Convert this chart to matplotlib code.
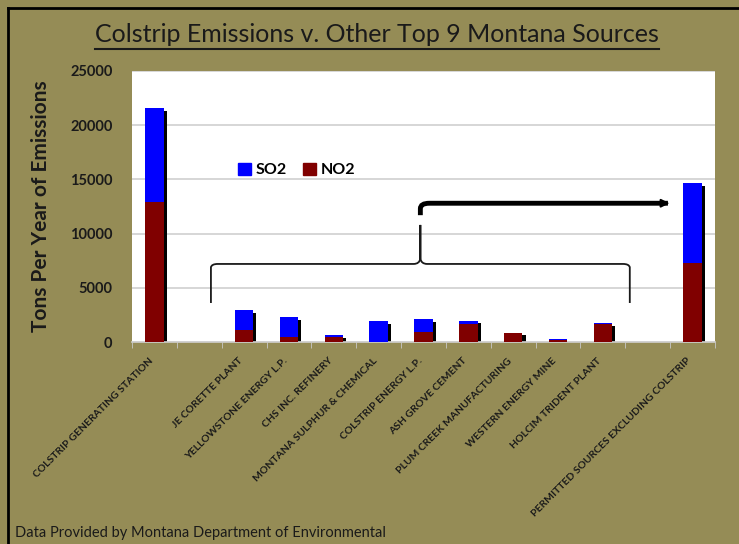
import numpy as np
import matplotlib.pyplot as plt
from matplotlib.path import Path
from matplotlib.patches import PathPatch, Patch
from matplotlib.transforms import ScaledTranslation

# data (tons per year), blank slots kept as gaps like the original
sources = ['COLSTRIP GENERATING STATION', '', 'JE CORETTE PLANT', 'YELLOWSTONE ENERGY L.P.',
           'CHS INC. REFINERY', 'MONTANA SULPHUR & CHEMICAL', 'COLSTRIP ENERGY L.P.',
           'ASH GROVE CEMENT', 'PLUM CREEK MANUFACTURING', 'WESTERN ENERGY MINE',
           'HOLCIM TRIDENT PLANT', '', 'PERMITTED SOURCES EXCLUDING COLSTRIP']
no2 = [12900, 0, 1100, 480, 430, 30, 950, 1630, 820, 200, 1680, 0, 7300]
so2 = [8700, 0, 1850, 1800, 220, 1910, 1170, 330, 40, 50, 40, 0, 7350]

bg = '#958c56'
blue = '#0000ff'
red = '#800000'

plt.rcParams['font.family'] = ['Lato', 'DejaVu Sans']

fig = plt.figure(figsize=(7.39, 5.44), dpi=100, facecolor=bg)
ax = fig.add_axes([132/739, 1-342/544, 583/739, 271/544])
ax.set_facecolor('white')

x = np.arange(len(sources))
tot = np.array(no2) + np.array(so2)
w = 0.41
# drop shadow
ax.bar(x + 0.07, tot - 250, w, bottom=0, color='black', zorder=2)
ax.bar(x, no2, w, color=red, zorder=3)
ax.bar(x, so2, w, bottom=no2, color=blue, zorder=3)

ax.set_xlim(-0.5, len(sources) - 0.5)
ax.set_ylim(0, 25000)
ax.set_yticks(range(0, 25001, 5000))
ax.yaxis.grid(True, color='#d0d0d0', lw=1.2, zorder=0)
ax.set_axisbelow(True)
for s in ['top', 'right', 'left']:
    ax.spines[s].set_visible(False)
ax.spines['bottom'].set_color('#d0d0d0')
ax.spines['bottom'].set_linewidth(1.2)
ax.tick_params(axis='y', length=0, pad=14, labelsize=10.5, labelcolor='#1a1a1a')
for t in ax.get_yticklabels():
    t.set_fontweight('bold')
ax.set_xticks(x)
ax.set_xticklabels(sources, rotation=45, ha='right', rotation_mode='anchor',
                   fontsize=7.5, fontweight='bold', color='#1a1a1a')
ax.tick_params(axis='x', length=0, pad=6)
shift = ScaledTranslation(-6/100, -6/100, fig.dpi_scale_trans)
for lab in ax.get_xticklabels():
    lab.set_transform(lab.get_transform() + shift)
ax.set_xticks(np.arange(-0.5, len(sources)), minor=True)
ax.tick_params(axis='x', which='minor', length=4, color='#c8c8c8')

ax.set_ylabel('Tons Per Year of Emissions', fontsize=15, fontweight='bold',
              color='#1a1a1a', labelpad=14)

leg = ax.legend(handles=[Patch(color=blue, label='SO2'), Patch(color=red, label='NO2')],
                ncol=2, frameon=False, loc='center left', bbox_to_anchor=(0.158, 0.635),
                handlelength=0.8, handleheight=0.8, handletextpad=0.3, columnspacing=1.0,
                prop={'weight': 'bold', 'size': 11.5})

# curly brace over the nine other sources
xl, xr, xm = 1.26, 10.6, 5.93
yb, yh, yp = 3600, 7200, 10800
verts = [(xl, yb), (xl, yh - 300), (xl + 0.02, yh), (xl + 0.15, yh),
         (xm - 0.15, yh), (xm - 0.02, yh), (xm, yh + 500), (xm, yp),
         (xm, yh + 500), (xm + 0.02, yh), (xm + 0.15, yh),
         (xr - 0.15, yh), (xr - 0.02, yh), (xr, yh - 300), (xr, yb)]
codes = [Path.MOVETO, Path.LINETO, Path.CURVE3, Path.CURVE3,
         Path.LINETO, Path.CURVE3, Path.CURVE3, Path.LINETO,
         Path.LINETO, Path.CURVE3, Path.CURVE3,
         Path.LINETO, Path.CURVE3, Path.CURVE3, Path.LINETO]
ax.add_patch(PathPatch(Path(verts, codes), fill=False, lw=1.3, ec='#1a1a1a', zorder=4))

# arrow to the permitted sources bar
ya, yt = 11700, 12800
ax.add_patch(PathPatch(Path([(xm, ya), (xm, yt - 500), (xm, yt), (xm + 0.2, yt), (11.45, yt)],
                            [Path.MOVETO, Path.LINETO, Path.CURVE3, Path.CURVE3, Path.LINETO]),
                       fill=False, lw=3.5, ec='black', capstyle='butt', zorder=4))
ax.annotate('', xy=(11.55, yt), xytext=(11.3, yt),
            arrowprops=dict(arrowstyle='-|>', color='black', lw=1.5, mutation_scale=12), zorder=4)

t = fig.text(377/739, 1-35/544, 'Colstrip Emissions v. Other Top 9 Montana Sources',
             ha='center', va='center', fontsize=18, color='#1a1a1a')
fig.canvas.draw()
bb = t.get_window_extent()
fig.add_artist(plt.Line2D([bb.x0/739, bb.x1/739], [(bb.y0 - 2)/544]*2,
                          color='#1a1a1a', lw=1.5))

fig.text(15/739, 1-533/544, 'Data Provided by Montana Department of Environmental',
         ha='left', va='center', fontsize=10.5, color='#1a1a1a')

# black frame on the left and top edges
fig.add_artist(plt.Line2D([7.5/739, 7.5/739], [0, 1-7.5/544], color='black', lw=2))
fig.add_artist(plt.Line2D([7.5/739, 1], [1-7.5/544, 1-7.5/544], color='black', lw=2))

fig.savefig('out.png', dpi=100, facecolor=bg)
